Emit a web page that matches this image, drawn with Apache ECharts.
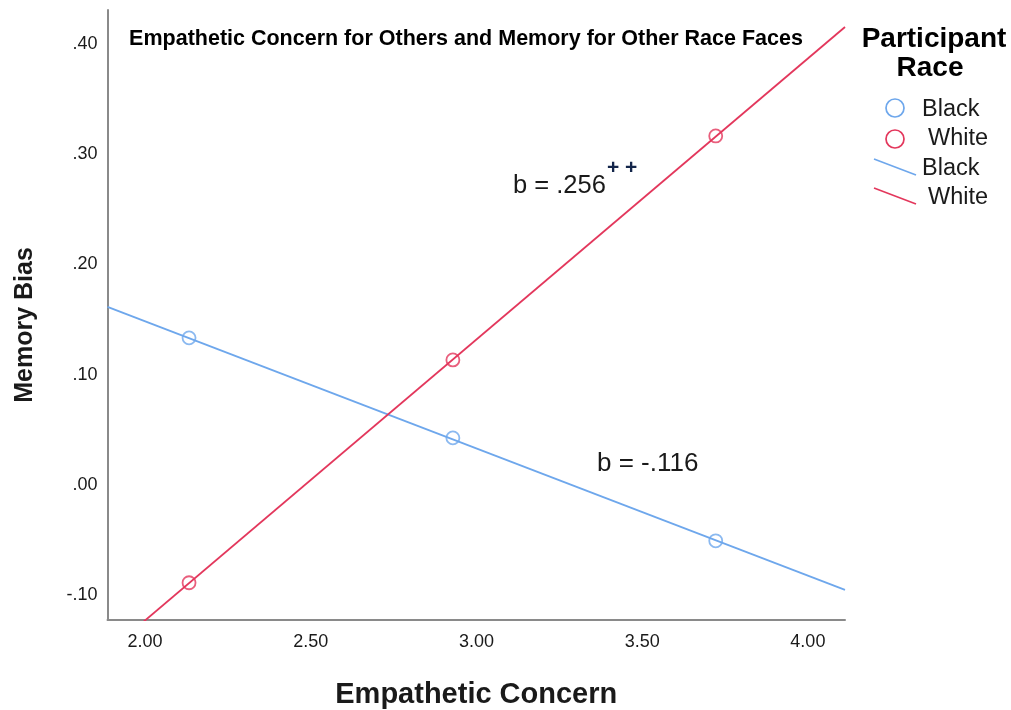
<!DOCTYPE html>
<html>
<head>
<meta charset="utf-8">
<title>Empathetic Concern and Memory Bias</title>
<script src="https://cdn.jsdelivr.net/npm/echarts@6/dist/echarts.min.js"></script>
<style>
  html, body { margin: 0; padding: 0; background: #fff; }
  #chart { width: 1011px; height: 710px; }
</style>
</head>
<body>
<div id="chart"></div>
<script>
// Cell means of memory bias at three levels of empathetic concern
const blackPoints = [[2.133, 0.1334], [2.929, 0.0426], [3.722, -0.0508]];
const whitePoints = [[2.133, -0.0889], [2.929, 0.1134], [3.722, 0.3167]];

// Fitted simple-slope lines, drawn across the full x range
const blackFit = [[1.887, 0.1615], [4.112, -0.0953]];
const whiteFit = [[1.887, -0.152], [4.112, 0.4156]];

// Axis ticks
const xTicks = [2.0, 2.5, 3.0, 3.5, 4.0];
const yTicks = [-0.1, 0.0, 0.1, 0.2, 0.3, 0.4];

const blue = '#6ea7ec';
const red = '#e3375c';
const ink = '#1a1a1a';
const sans = 'Liberation Sans';

const fmtY = v => {
  const s = Math.abs(v).toFixed(2).replace(/^0/, '');
  return (v < -1e-9 ? '-' : '') + s;
};

const chart = echarts.init(document.getElementById('chart'), null, { renderer: 'canvas' });

chart.setOption({
  animation: false,
  backgroundColor: '#fff',
  grid: { left: 107.5, right: 166, top: 10, bottom: 90, containLabel: false, outerBoundsMode: 'none' },
  xAxis: {
    type: 'value',
    min: 1.887,
    max: 4.112,
    name: 'Empathetic Concern',
    nameLocation: 'middle',
    nameGap: 60,
    nameTextStyle: { fontFamily: sans, fontWeight: 'bold', fontSize: 29, color: ink },
    axisLine: { show: true, onZero: false, lineStyle: { color: '#8a8a8a', width: 2 } },
    axisTick: { show: false },
    splitLine: { show: false },
    axisLabel: {
      customValues: xTicks,
      formatter: v => v.toFixed(2),
      fontFamily: sans, fontSize: 18, color: ink, margin: 13
    }
  },
  yAxis: {
    type: 'value',
    min: -0.1227,
    max: 0.431,
    axisLine: { show: true, onZero: false, lineStyle: { color: '#8a8a8a', width: 2 } },
    axisTick: { show: false },
    splitLine: { show: false },
    axisLabel: {
      customValues: yTicks,
      formatter: fmtY,
      fontFamily: sans, fontSize: 18, color: ink, margin: 10
    }
  },
  series: [
    {
      name: 'Black fit', type: 'line', data: blackFit, showSymbol: false, symbol: 'none',
      lineStyle: { color: blue, width: 1.8 }, clip: true, z: 2
    },
    {
      name: 'White fit', type: 'line', data: whiteFit, showSymbol: false, symbol: 'none',
      lineStyle: { color: red, width: 1.8 }, clip: true, z: 2
    },
    {
      name: 'Black', type: 'scatter', data: blackPoints, symbol: 'circle', symbolSize: 13,
      itemStyle: { color: 'rgba(255,255,255,0)', borderColor: blue, borderWidth: 1.8 }, z: 3
    },
    {
      name: 'White', type: 'scatter', data: whitePoints, symbol: 'circle', symbolSize: 13,
      itemStyle: { color: 'rgba(255,255,255,0)', borderColor: red, borderWidth: 1.8 }, z: 3
    }
  ],
  graphic: [
    // y-axis title
    {
      type: 'text', x: 25, y: 325, rotation: Math.PI / 2,
      style: {
        text: 'Memory Bias', fontFamily: sans, fontWeight: 'bold', fontSize: 25, fill: ink,
        align: 'center', verticalAlign: 'middle'
      }
    },
    // chart title inside the plot area
    {
      type: 'text', x: 466, y: 39,
      style: {
        text: 'Empathetic Concern for Others and Memory for Other Race Faces',
        fontFamily: sans, fontWeight: 'bold', fontSize: 21.5, fill: '#000',
        align: 'center', verticalAlign: 'middle'
      }
    },
    // slope annotations
    {
      type: 'text', x: 513, y: 186,
      style: { text: 'b = .256', fontFamily: sans, fontSize: 25.5, fill: ink, verticalAlign: 'middle' }
    },
    {
      type: 'text', x: 607, y: 168,
      style: { text: '+ +', fontFamily: sans, fontWeight: 'bold', fontSize: 21, fill: '#13254a', verticalAlign: 'middle' }
    },
    {
      type: 'text', x: 597, y: 464,
      style: { text: 'b = -.116', fontFamily: sans, fontSize: 26, fill: ink, verticalAlign: 'middle' }
    },
    // legend
    {
      type: 'text', x: 934, y: 39,
      style: { text: 'Participant', fontFamily: sans, fontWeight: 'bold', fontSize: 28, fill: '#000', align: 'center', verticalAlign: 'middle' }
    },
    {
      type: 'text', x: 930, y: 68,
      style: { text: 'Race', fontFamily: sans, fontWeight: 'bold', fontSize: 28, fill: '#000', align: 'center', verticalAlign: 'middle' }
    },
    { type: 'circle', shape: { cx: 895, cy: 108, r: 9 }, style: { fill: 'none', stroke: blue, lineWidth: 1.7 } },
    { type: 'circle', shape: { cx: 895, cy: 139, r: 9 }, style: { fill: 'none', stroke: red, lineWidth: 1.7 } },
    { type: 'line', shape: { x1: 874, y1: 159, x2: 916, y2: 175 }, style: { stroke: blue, lineWidth: 1.7 } },
    { type: 'line', shape: { x1: 874, y1: 188, x2: 916, y2: 204 }, style: { stroke: red, lineWidth: 1.7 } },
    {
      type: 'text', x: 922, y: 110,
      style: { text: 'Black', fontFamily: sans, fontSize: 23.5, fill: ink, verticalAlign: 'middle' }
    },
    {
      type: 'text', x: 928, y: 139,
      style: { text: 'White', fontFamily: sans, fontSize: 23.5, fill: ink, verticalAlign: 'middle' }
    },
    {
      type: 'text', x: 922, y: 169,
      style: { text: 'Black', fontFamily: sans, fontSize: 23.5, fill: ink, verticalAlign: 'middle' }
    },
    {
      type: 'text', x: 928, y: 198,
      style: { text: 'White', fontFamily: sans, fontSize: 23.5, fill: ink, verticalAlign: 'middle' }
    }
  ]
});
</script>
</body>
</html>
